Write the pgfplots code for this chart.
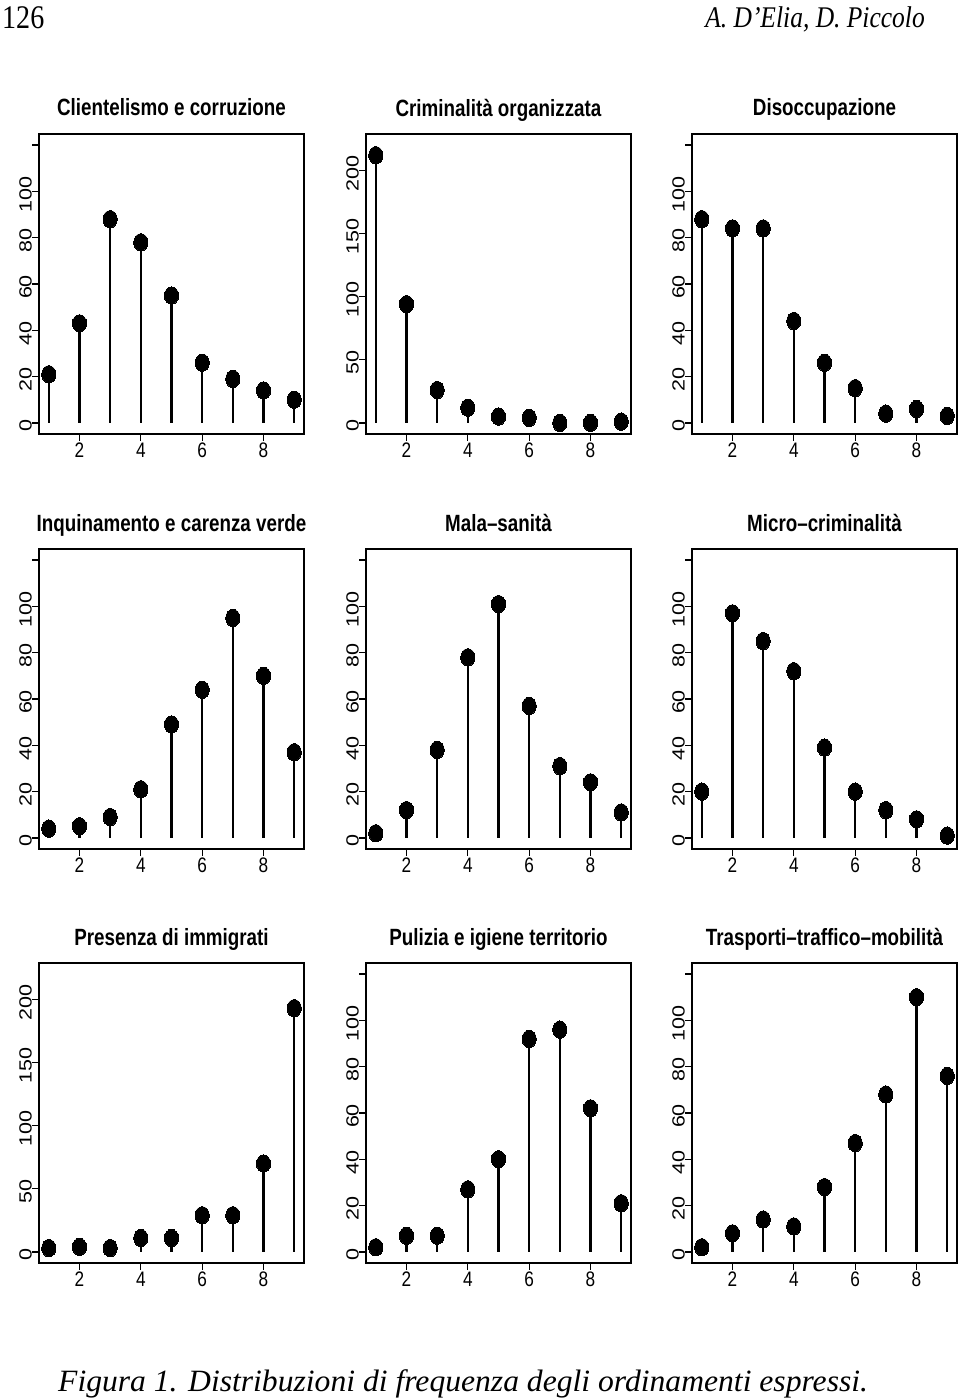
\documentclass[border=0pt]{standalone}
\usepackage{pgfplots}
\pgfplotsset{compat=1.18}
\usepackage{fontspec}
\setmainfont{Liberation Sans}
\newfontfamily\tfont{Liberation Sans}
\newfontfamily\xfont[FakeStretch=0.82]{Liberation Sans}
\newfontfamily\ttlfont[FakeStretch=0.8]{Liberation Sans}
\newfontfamily\serfont[FakeStretch=0.85]{Liberation Serif}
\newfontfamily\capfont[FakeStretch=1.02]{Liberation Serif}
\newcommand\yl[1]{\scalebox{1}[0.82]{\fontsize{21.5}{21.5}\selectfont\tfont #1}}
\pgfplotsset{
  panel/.style={
    scale only axis, width=265pt, height=300pt, anchor=south west,
    xmin=0.68, xmax=9.32, xtick={2,4,6,8}, xticklabels={2,4,6,8},
    tick align=outside, tick pos=left, major tick length=7pt,
    axis line style={line width=1.3pt},
    every tick/.style={black, line width=1.3pt},
    xticklabel style={font=\fontsize{21}{21}\selectfont\xfont, inner sep=0pt, yshift=-2pt},
    yticklabel style={rotate=90, anchor=south, inner sep=0pt, xshift=-3pt},
    title style={font=\fontsize{23.5}{23.5}\selectfont\ttlfont\bfseries, at={(0.5,1)}, anchor=base, yshift=12pt},
  },
  sA/.style={ymin=-4.8, ymax=124.8, ytick={0,20,...,120},
    yticklabels={\yl{0},\yl{20},\yl{40},\yl{60},\yl{80},\yl{100},{}}},
  sB/.style={ymin=-8.8, ymax=228.8, ytick={0,50,...,200},
    yticklabels={\yl{0},\yl{50},\yl{100},\yl{150},\yl{200}}},
  stem/.style={ycomb, black, line width=2.1pt, mark=*, mark size=8.7pt,
    mark options={xscale=0.82, fill=black, draw=black, line width=0pt}},
}
\begin{document}
\begin{tikzpicture}[x=1pt,y=1pt]
\path[use as bounding box] (0,0) rectangle (960,-1399);
\node[anchor=base west, inner sep=0pt, font=\fontsize{33}{33}\selectfont\serfont] at (2,-29) {126};
\node[anchor=base east, inner sep=0pt, font=\fontsize{30}{30}\selectfont\serfont\itshape] at (925,-28) {A. D’Elia, D. Piccolo};
\node[anchor=base west, inner sep=0pt, font=\fontsize{31}{31}\selectfont\capfont\itshape] at (58,-1391) {Figura 1. Distribuzioni di frequenza degli ordinamenti espressi.};

% Row 1
\begin{axis}[panel, sA, at={(39pt,-434pt)}, title={Clientelismo e corruzione}]
\addplot[stem] coordinates {(1,21) (2,43) (3,88) (4,78) (5,55) (6,26) (7,19) (8,14) (9,10)};
\end{axis}
\begin{axis}[panel, sB, at={(366pt,-434pt)}, title={Criminalità organizzata}]
\addplot[stem] coordinates {(1,212) (2,94) (3,26) (4,12) (5,5) (6,4) (7,0) (8,0) (9,1)};
\end{axis}
\begin{axis}[panel, sA, at={(692pt,-434pt)}, title={Disoccupazione}]
\addplot[stem] coordinates {(1,88) (2,84) (3,84) (4,44) (5,26) (6,15) (7,4) (8,6) (9,3)};
\end{axis}

% Row 2
\begin{axis}[panel, sA, at={(39pt,-849pt)}, title={Inquinamento e carenza verde}]
\addplot[stem] coordinates {(1,4) (2,5) (3,9) (4,21) (5,49) (6,64) (7,95) (8,70) (9,37)};
\end{axis}
\begin{axis}[panel, sA, at={(366pt,-849pt)}, title={Mala\textendash sanità}]
\addplot[stem] coordinates {(1,2) (2,12) (3,38) (4,78) (5,101) (6,57) (7,31) (8,24) (9,11)};
\end{axis}
\begin{axis}[panel, sA, at={(692pt,-849pt)}, title={Micro\textendash criminalità}]
\addplot[stem] coordinates {(1,20) (2,97) (3,85) (4,72) (5,39) (6,20) (7,12) (8,8) (9,1)};
\end{axis}

% Row 3
\begin{axis}[panel, sB, at={(39pt,-1263pt)}, title={Presenza di immigrati}]
\addplot[stem] coordinates {(1,3) (2,4) (3,3) (4,11) (5,11) (6,29) (7,29) (8,70) (9,193)};
\end{axis}
\begin{axis}[panel, sA, at={(366pt,-1263pt)}, title={Pulizia e igiene territorio}]
\addplot[stem] coordinates {(1,2) (2,7) (3,7) (4,27) (5,40) (6,92) (7,96) (8,62) (9,21)};
\end{axis}
\begin{axis}[panel, sA, at={(692pt,-1263pt)}, title={Trasporti\textendash traffico\textendash mobilità}]
\addplot[stem] coordinates {(1,2) (2,8) (3,14) (4,11) (5,28) (6,47) (7,68) (8,110) (9,76)};
\end{axis}
\end{tikzpicture}
\end{document}
